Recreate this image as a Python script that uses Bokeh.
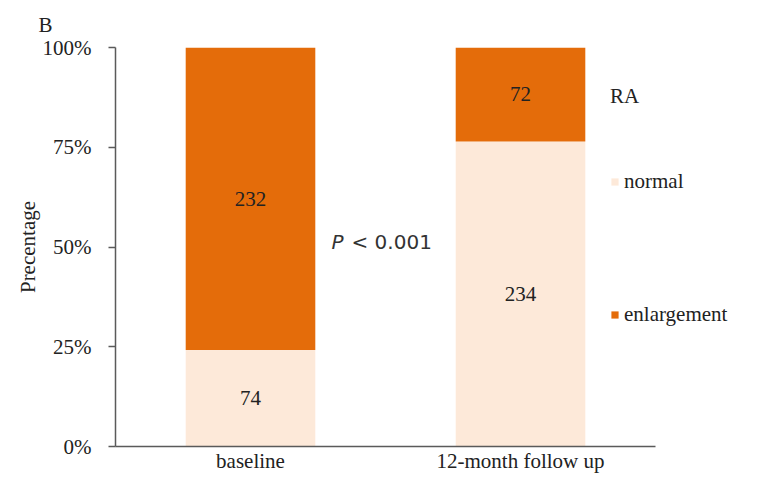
from bokeh.plotting import figure
from bokeh.models import (ColumnDataSource, Range1d, NumeralTickFormatter, Legend,
                          LegendItem, Label, FixedTicker)
from bokeh.core.properties import value
from bokeh.embed import file_html
from bokeh.resources import INLINE

groups = ["baseline", "12-month follow up"]
normal = [74, 234]
enlargement = [232, 72]
series_names = ["normal", "enlargement"]
colors = ["#FDE9D9", "#E46C0A"]
y_ticks = [0, 0.25, 0.5, 0.75, 1.0]

xpos = list(range(len(groups)))
totals = [a + b for a, b in zip(normal, enlargement)]
norm_frac = [a / t for a, t in zip(normal, totals)]
enl_frac = [b / t for b, t in zip(enlargement, totals)]

src = ColumnDataSource(dict(
    x=xpos,
    normal=norm_frac,
    enlargement=enl_frac,
    n_lab=[str(v) for v in normal],
    e_lab=[str(v) for v in enlargement],
    n_mid=[f / 2 for f in norm_frac],
    e_mid=[f + e / 2 for f, e in zip(norm_frac, enl_frac)],
))

SERIF = "Liberation Serif"
FS = "21px"
TXT = "#222222"

W, H = 745, 475
p = figure(x_range=Range1d(-0.5, 1.8333), y_range=Range1d(0, 1), width=W, height=H,
           output_backend="svg", toolbar_location=None,
           min_border_left=115, min_border_right=0, min_border_top=47, min_border_bottom=0)
p.outline_line_color = None
p.grid.grid_line_color = None
p.background_fill_color = "white"

r = p.vbar_stack(series_names, x="x", width=0.48, source=src, color=colors, line_color=None)

for ycol, tcol in (("n_mid", "n_lab"), ("e_mid", "e_lab")):
    p.text(x="x", y=ycol, text=tcol, source=src, text_align="center", text_baseline="middle",
           text_font=value(SERIF), text_font_size=FS, text_color=TXT)

# y axis
p.yaxis.ticker = FixedTicker(ticks=y_ticks)
p.yaxis.formatter = NumeralTickFormatter(format="0%")
p.yaxis.major_tick_in = 0
p.yaxis.major_tick_out = 7
p.yaxis.minor_tick_line_color = None
p.yaxis.axis_line_color = "#5a5a5a"
p.yaxis.axis_line_width = 1.5
p.yaxis.major_tick_line_color = "#5a5a5a"
p.yaxis.major_tick_line_width = 1.5
p.yaxis.major_label_text_font = SERIF
p.yaxis.major_label_text_font_size = FS
p.yaxis.major_label_text_color = TXT
p.yaxis.major_label_standoff = 17
p.yaxis.axis_label = "Precentage"
p.yaxis.axis_label_text_font = SERIF
p.yaxis.axis_label_text_font_style = "normal"
p.yaxis.axis_label_text_font_size = FS
p.yaxis.axis_label_text_color = TXT
p.yaxis.axis_label_standoff = 0

# x axis
p.xaxis.ticker = FixedTicker(ticks=xpos)
p.xaxis.major_label_overrides = {i: g for i, g in zip(xpos, groups)}
p.xaxis.bounds = (-0.5, 1.5)
p.xaxis.major_tick_line_color = None
p.xaxis.minor_tick_line_color = None
p.xaxis.major_tick_out = 0
p.xaxis.major_tick_in = 0
p.xaxis.axis_line_color = "#5a5a5a"
p.xaxis.axis_line_width = 1.5
p.xaxis.major_label_text_font = SERIF
p.xaxis.major_label_text_font_size = FS
p.xaxis.major_label_text_color = TXT
p.xaxis.major_label_text_line_height = 0.9
p.xaxis.major_label_standoff = 2

# legend
legend = Legend(items=[LegendItem(label=series_names[0], renderers=[r[0]]),
                       LegendItem(label=series_names[1], renderers=[r[1]])],
                location=(495, 119), title="RA",
                title_text_font=SERIF, title_text_font_size=FS, title_text_font_style="normal",
                title_text_color=TXT, title_standoff=60,
                label_text_font=SERIF, label_text_font_size=FS, label_text_color=TXT,
                glyph_width=9, glyph_height=9, label_standoff=5, spacing=108,
                padding=0, margin=0, background_fill_alpha=0, border_line_color=None)
p.add_layout(legend, "center")

# panel letter
p.title.text = "B"
p.title.align = "left"
p.title.offset = -77
p.title.standoff = 21
p.title.text_font = SERIF
p.title.text_font_size = FS
p.title.text_font_style = "normal"
p.title.text_color = TXT

# P value
p.add_layout(Label(x=216, y=205, x_units="screen", y_units="screen", text="P",
                   text_font="DejaVu Sans", text_font_style="italic", text_font_size="20px",
                   text_color="#333333", text_baseline="middle"))
p.add_layout(Label(x=236, y=205, x_units="screen", y_units="screen", text="< 0.001",
                   text_font="DejaVu Sans", text_font_size="20px",
                   text_color="#333333", text_baseline="middle"))

open("out.html", "w").write(file_html(p, INLINE))
